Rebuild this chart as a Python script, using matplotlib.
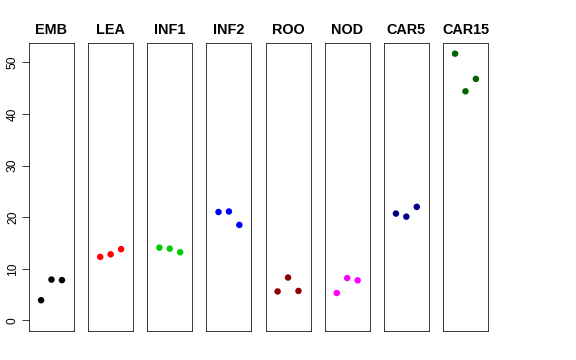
import matplotlib.pyplot as plt
import numpy as np

plt.rcParams['font.family'] = ['Liberation Sans', 'DejaVu Sans']

# tissue groups, three replicates each
groups = ["EMB", "LEA", "INF1", "INF2", "ROO", "NOD", "CAR5", "CAR15"]
colors = ["black", "red", "#00CD00", "blue", "#8B0000", "magenta", "#00008B", "#006400"]
values = [
    [3.9, 7.9, 7.8],
    [12.3, 12.8, 13.8],
    [14.1, 13.9, 13.2],
    [21.0, 21.1, 18.5],
    [5.6, 8.3, 5.7],
    [5.3, 8.2, 7.75],
    [20.7, 20.1, 22.0],
    [51.7, 44.4, 46.8],
]
reps = [1, 2, 3]
yticks = [0, 10, 20, 30, 40, 50]

W, H = 576, 360
fig = plt.figure(figsize=(W / 72, H / 72), dpi=72)

ymax = max(max(v) for v in values)
ylo, yhi = -0.04 * ymax, ymax * 1.04

left0, step, pw = 29, 59.14, 45
bottom, top = 331, 43

for i, g in enumerate(groups):
    x0 = left0 + i * step
    ax = fig.add_axes([x0 / W, (H - bottom) / H, pw / W, (bottom - top) / H])
    ax.scatter(reps, values[i], s=42, color=colors[i], edgecolors='none', zorder=3)
    ax.set_xlim(-0.16, 4.16)
    ax.set_ylim(ylo, yhi)
    ax.set_xticks([])
    for sp in ax.spines.values():
        sp.set_linewidth(0.75)
        sp.set_color('black')
    ax.set_title(g, fontsize=14.4, fontweight='bold', pad=9)
    if i == 0:
        ax.set_yticks(yticks)
        ax.set_yticklabels([str(t) for t in yticks], rotation=90, va='center', fontsize=12)
        ax.tick_params(axis='y', length=7, width=0.75, pad=3)
    else:
        ax.set_yticks([])

fig.savefig("out.png", dpi=72)
